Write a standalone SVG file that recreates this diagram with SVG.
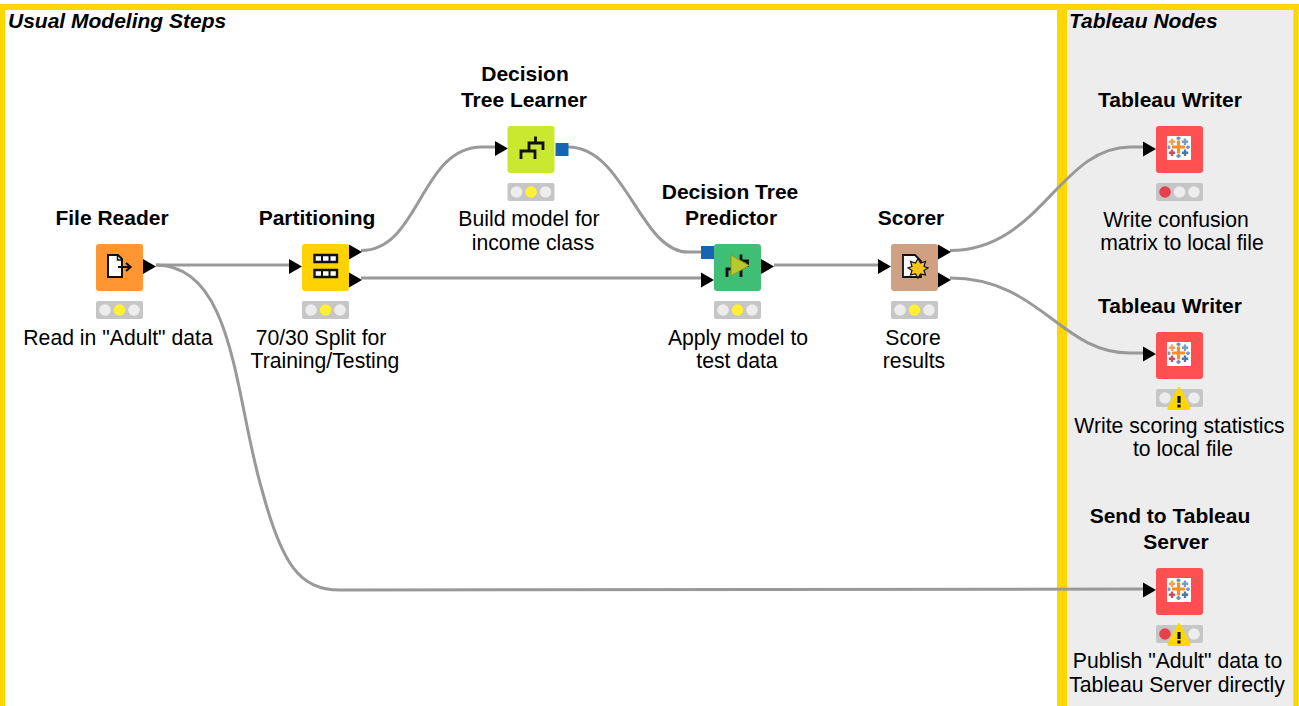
<svg xmlns="http://www.w3.org/2000/svg" width="1299" height="706" viewBox="0 0 1299 706">
<style>
text{font-family:"Liberation Sans",Arial,sans-serif;fill:#000;text-anchor:middle}
.t{font-size:21px;font-weight:700}
.d{font-size:21.2px}
.h{font-size:21px;font-weight:700;font-style:italic;text-anchor:start}
.c{fill:none;stroke:#999;stroke-width:3}
.tl{fill:#c6c6c6}
.off{fill:#ededed}
.on{fill:#fff033}
.err{fill:#e8414e}
.p{fill:#000}
.i{fill:none;stroke:#111;stroke-width:2.8}
.tb{fill:#ff4f50}
</style>
<defs>
<g id="light"><rect class="tl" width="47" height="18" rx="2"/><circle class="off" cx="9" cy="9" r="5.800"/><circle class="on" cx="23.500" cy="9" r="5.800"/><circle class="off" cx="38" cy="9" r="5.800"/></g>
<g id="warn"><path d="M0 -14L-10.500 6Q-11 7 -10 7H10Q11 7 10.500 6Z" fill="#ffd800" stroke="#ffd800" stroke-width="2" stroke-linejoin="round"/><rect x="-1.600" y="-6" width="3.200" height="7" fill="#111"/><rect x="-1.600" y="2.500" width="3.200" height="3" fill="#111"/></g>
<path id="arr" class="p" d="M0 -7.500L13 0L0 7.500Z"/>
<g id="tableau">
<rect class="tb" width="47" height="47" rx="3"/>
<rect x="11" y="10" width="24" height="24" fill="#fff"/>
<path d="M22.500 14.500V27.500M16 21H29" stroke="#f28e2b" stroke-width="3.200"/>
<path d="M16 12.500V19M12.800 15.800H19.200" stroke="#f2a05a" stroke-width="2.400"/>
<path d="M29 12.500V19M25.800 15.800H32.200" stroke="#7b9cc4" stroke-width="2.400"/>
<path d="M16 23.500V30M12.800 26.800H19.200" stroke="#c7505f" stroke-width="2.400"/>
<path d="M29 23.500V30M25.800 26.800H32.200" stroke="#4e79a7" stroke-width="2.400"/>
<path d="M22.500 10.500V14M20.500 12.200H24.500M22.500 28V32M20.500 30H24.500" stroke="#6d8fb5" stroke-width="2"/>
<path d="M13 19.500V23M11.500 21.200H14.500M32 19.500V23M30 21.200H34" stroke="#7b9cc4" stroke-width="2"/>
</g>
</defs>
<rect width="1299" height="706" fill="#fff"/>
<rect x="1062" y="7" width="234" height="699" fill="#ededed"/>
<path d="M2.500 706V7H1296V706" fill="none" stroke="#ffd700" stroke-width="5.500"/>
<path d="M1062 7V706" fill="none" stroke="#ffd700" stroke-width="10"/>
<path d="M0 7H1299" stroke="#ffd700" stroke-width="6"/>
<text class="h" x="8" y="28">Usual Modeling Steps</text>
<text class="h" x="1069" y="28">Tableau Nodes</text>
<g id="connectors">
<path class="c" d="M156 265H290"/>
<path class="c" d="M156 265C235 265 235 400 262 490C282 565 300 590 340 590L1144 589"/>
<path class="c" d="M361 250.500C420 250.500 420 147 482 147H495"/>
<path class="c" d="M361 278H702"/>
<path class="c" d="M568 147C625 147 640 252 688 252H702"/>
<path class="c" d="M774 265H879"/>
<path class="c" d="M950 250.500C1040 250.500 1060 147 1130 147H1144"/>
<path class="c" d="M950 278C1040 278 1060 353 1130 353H1144"/>
<use href="#arr" x="143" y="266.500"/>
<use href="#arr" x="289" y="266.500"/>
<use href="#arr" x="349" y="252"/>
<use href="#arr" x="349" y="280"/>
<use href="#arr" x="495" y="148.500"/>
<use href="#arr" x="701" y="280"/>
<use href="#arr" x="761" y="266.500"/>
<use href="#arr" x="878" y="266.500"/>
<use href="#arr" x="938" y="252"/>
<use href="#arr" x="938" y="280"/>
<use href="#arr" x="1143" y="149"/>
<use href="#arr" x="1143" y="354"/>
<use href="#arr" x="1143" y="590"/>
</g>
<g id="file-reader">
<text class="t" x="112" y="225">File Reader</text>
<rect x="96" y="244" width="47" height="47" rx="3" fill="#ff9632"/>
<path d="M108 255H118L122 259V277H108Z" fill="#fff" stroke="#111" stroke-width="2"/>
<path d="M117.500 255V260H122" fill="none" stroke="#111" stroke-width="1.500"/>
<path d="M118 267H130M126 263L130.500 267L126 271" fill="none" stroke="#111" stroke-width="2.200"/>
<use href="#light" x="96" y="301"/>
<text class="d" x="118" y="345">Read in "Adult" data</text>
</g>
<g id="partitioning">
<text class="t" x="317" y="225">Partitioning</text>
<rect x="302" y="244" width="47" height="47" rx="3" fill="#ffd200"/>
<path d="M314.500 255H337V262H314.500ZM314.500 270H337V277H314.500Z" fill="#fff" stroke="#111" stroke-width="2.400"/>
<path d="M322 255V262M329.500 255V262M322 270V277M329.500 270V277" stroke="#111" stroke-width="2"/>
<use href="#light" x="302" y="301"/>
<text class="d" x="321" y="345">70/30 Split for</text>
<text class="d" x="325" y="368">Training/Testing</text>
</g>
<g id="decision-tree-learner">
<text class="t" x="525" y="81">Decision</text>
<text class="t" x="524" y="107">Tree Learner</text>
<rect x="507.500" y="126" width="47" height="47" rx="3" fill="#c9e82e"/>
<path class="i" d="M521 159V151H535V159M529 151V143H543V150M535.500 143V136.500"/>
<rect x="555.500" y="143" width="13" height="13" fill="#1565b0"/>
<use href="#light" x="507.500" y="183"/>
<text class="d" x="529" y="226">Build model for</text>
<text class="d" x="533" y="250">income class</text>
</g>
<g id="decision-tree-predictor">
<text class="t" x="730" y="199">Decision Tree</text>
<text class="t" x="731" y="225">Predictor</text>
<rect x="701" y="246" width="13" height="13" fill="#1565b0"/>
<rect x="714" y="244" width="47" height="47" rx="3" fill="#3fbf75"/>
<path class="i" d="M727 277V269H741V277M734 269V261H747.500V267M741 261V254.500"/>
<path d="M731 255L749 265.500L731 276Z" fill="#b9c92c" stroke="#8a9a20" stroke-width="1"/>
<use href="#light" x="714" y="301"/>
<text class="d" x="738" y="345">Apply model to</text>
<text class="d" x="737" y="368">test data</text>
</g>
<g id="scorer">
<text class="t" x="911" y="225">Scorer</text>
<rect x="891" y="244" width="47" height="47" rx="3" fill="#cfa182"/>
<path d="M903 255H915L921 261V277H903Z" fill="#fff" stroke="#111" stroke-width="1.800"/>
<path d="M918 258.500L920.500 263L925.500 261.500L924 266.500L928 268L924 270.500L925.500 275L920.500 274L918 278L915.500 274L910.500 275L912 270.500L908 268L912 266.500L910.500 261.500L915.500 263Z" fill="#f5c518" stroke="#111" stroke-width="1.200"/>
<use href="#light" x="891" y="301"/>
<text class="d" x="913" y="345">Score</text>
<text class="d" x="914" y="368">results</text>
</g>
<g id="tableau-writer-1">
<text class="t" x="1170" y="107">Tableau Writer</text>
<use href="#tableau" x="1156" y="126"/>
<rect class="tl" x="1156" y="183" width="47" height="18" rx="2"/>
<circle class="err" cx="1165" cy="192" r="5.800"/><circle class="off" cx="1179.500" cy="192" r="5.800"/><circle class="off" cx="1194" cy="192" r="5.800"/>
<text class="d" x="1176" y="227">Write confusion</text>
<text class="d" x="1182" y="250">matrix to local file</text>
</g>
<g id="tableau-writer-2">
<text class="t" x="1170" y="313">Tableau Writer</text>
<use href="#tableau" x="1156" y="332"/>
<rect class="tl" x="1156" y="389" width="47" height="18" rx="2"/>
<circle class="off" cx="1165" cy="398" r="5.800"/><circle class="off" cx="1194" cy="398" r="5.800"/>
<use href="#warn" x="1179" y="402"/>
<text class="d" x="1179.500" y="433">Write scoring statistics</text>
<text class="d" x="1183" y="456">to local file</text>
</g>
<g id="send-to-tableau-server">
<text class="t" x="1170" y="523">Send to Tableau</text>
<text class="t" x="1176" y="549">Server</text>
<use href="#tableau" x="1156" y="568"/>
<rect class="tl" x="1156" y="625" width="47" height="18" rx="2"/>
<circle class="err" cx="1165" cy="634" r="5.800"/><circle class="off" cx="1194" cy="634" r="5.800"/>
<use href="#warn" x="1179" y="638"/>
<text class="d" x="1177.500" y="668">Publish "Adult" data to</text>
<text class="d" x="1177" y="692">Tableau Server directly</text>
</g>
</svg>
